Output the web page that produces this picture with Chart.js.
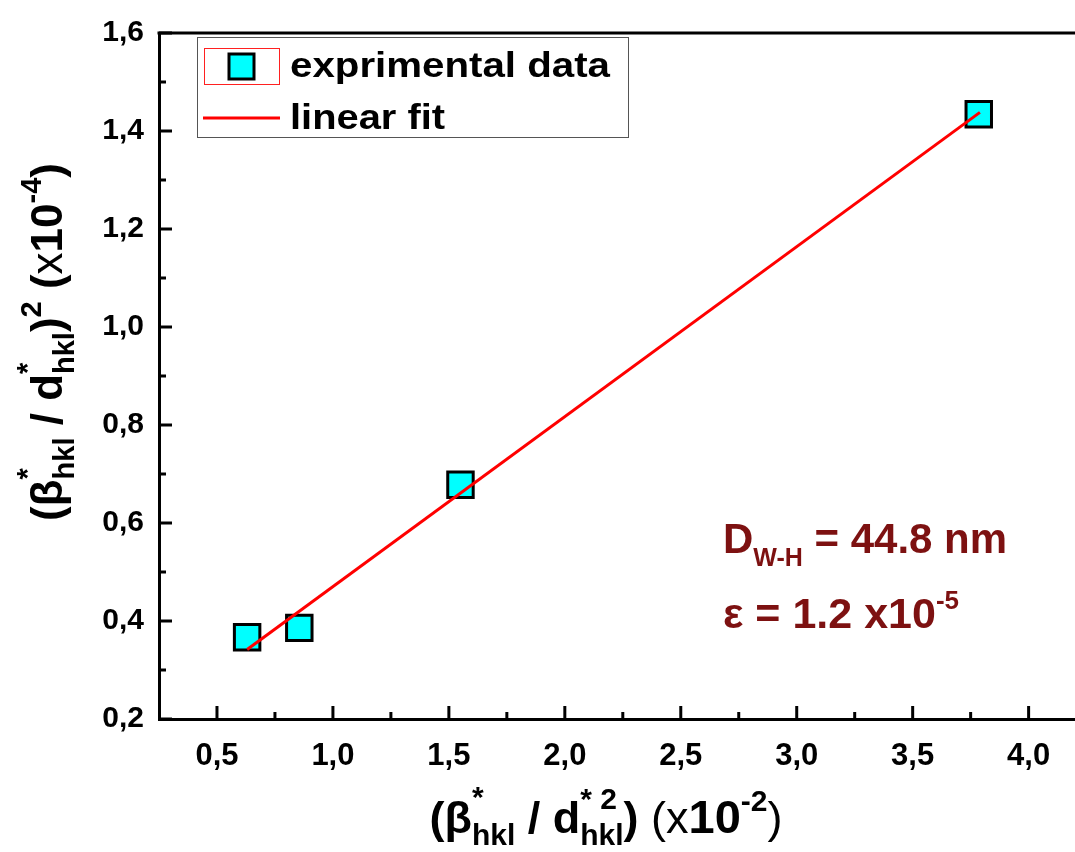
<!DOCTYPE html>
<html><head><meta charset="utf-8">
<script src="https://cdn.jsdelivr.net/npm/chart.js@4.4.0/dist/chart.umd.min.js"></script>
<style>html,body{margin:0;padding:0;background:#fff;overflow:hidden}canvas{display:block}</style>
</head><body>
<canvas id="c" width="1075" height="852"></canvas>
<script>
// ---- data ----
const expX = [0.63, 0.855, 1.55, 3.785];
const expY = [0.367, 0.386, 0.678, 1.434];
const fitX = [0.63, 3.79];
const fitY = [0.342, 1.438];
const seriesNames = ['exprimental data', 'linear fit'];
const xMajor = [0.5, 1.0, 1.5, 2.0, 2.5, 3.0, 3.5, 4.0];
const xMinor = [0.75, 1.25, 1.75, 2.25, 2.75, 3.25, 3.75];
const yMajor = [0.2, 0.4, 0.6, 0.8, 1.0, 1.2, 1.4, 1.6];
const yMinor = [0.3, 0.5, 0.7, 0.9, 1.1, 1.3, 1.5];
const annoLine1 = ['D', 'W-H', ' = 44.8 nm'];
const annoLine2 = ['\u03B5 = 1.2 x10', '-5'];

const FF = "'Liberation Sans', Arial, Helvetica, sans-serif";
const WINE = '#7d1111';
const fmt = v => v.toFixed(1).replace('.', ',');

function segWidth(ctx, s) {
  ctx.font = (s.bold === false ? '' : 'bold ') + s.size + 'px ' + FF;
  return ctx.measureText(s.t).width;
}
function richWidth(ctx, segs) {
  let w = 0, pend = 0;
  for (const s of segs) {
    const sw = segWidth(ctx, s);
    if (s.stack) { pend = sw; continue; }
    w += Math.max(sw, pend); pend = 0;
  }
  return w + pend;
}
function drawRich(ctx, segs, x, y, color) {
  ctx.fillStyle = color; ctx.textBaseline = 'alphabetic'; ctx.textAlign = 'left';
  let cx = x, pend = 0;
  for (const s of segs) {
    const sw = segWidth(ctx, s);
    ctx.fillText(s.t, cx, y + (s.dy || 0));
    if (s.stack) { pend = sw; continue; }
    cx += Math.max(sw, pend); pend = 0;
  }
}

const xTitle = [
  {t: '(\u03B2', size: 45}, {t: '*', size: 30, dy: -26, stack: true}, {t: 'hkl', size: 30, dy: 12},
  {t: ' / d', size: 45}, {t: '* 2', size: 30, dy: -24, stack: true}, {t: 'hkl', size: 30, dy: 12},
  {t: ')', size: 45}, {t: ' (x', size: 45, bold: false}, {t: '10', size: 47}, {t: '-2', size: 30, dy: -22},
  {t: ')', size: 45, bold: false}
];
const yTitle = [
  {t: '(\u03B2', size: 44}, {t: '*', size: 29, dy: -25, stack: true}, {t: 'hkl', size: 29, dy: 12},
  {t: ' / d', size: 44}, {t: '*', size: 29, dy: -25, stack: true}, {t: 'hkl', size: 29, dy: 12},
  {t: ')', size: 44}, {t: '2', size: 29, dy: -21}, {t: ' (', size: 44}, {t: 'x', size: 44, bold: false},
  {t: '10', size: 44}, {t: '-4', size: 29, dy: -21}, {t: ')', size: 44}
];

const decor = {
  id: 'decor',
  afterDraw(chart) {
    const ctx = chart.ctx, a = chart.chartArea, xs = chart.scales.x, ys = chart.scales.y;
    ctx.save();
    ctx.strokeStyle = '#000'; ctx.lineWidth = 3;
    ctx.beginPath(); ctx.moveTo(a.left - 1.5, a.top); ctx.lineTo(a.right, a.top); ctx.stroke();
    const tick = (vals, len, axis) => {
      for (const v of vals) {
        ctx.beginPath();
        if (axis === 'x') { const p = xs.getPixelForValue(v); ctx.moveTo(p, a.bottom); ctx.lineTo(p, a.bottom - len); }
        else { const p = ys.getPixelForValue(v); ctx.moveTo(a.left, p); ctx.lineTo(a.left + len, p); }
        ctx.stroke();
      }
    };
    tick(xMajor, 13, 'x'); tick(xMinor, 7, 'x'); tick(yMajor, 13, 'y'); tick(yMinor, 7, 'y');

    // legend
    ctx.lineWidth = 1; ctx.strokeStyle = '#555';
    ctx.strokeRect(197.5, 37.5, 431, 100);
    ctx.strokeStyle = '#ff2020';
    ctx.strokeRect(204.5, 48.5, 75, 36);
    const d0 = chart.data.datasets[1];
    ctx.fillStyle = d0.backgroundColor; ctx.fillRect(229, 54, 25, 25);
    ctx.strokeStyle = d0.borderColor; ctx.lineWidth = 3; ctx.strokeRect(229, 54, 25, 25);
    const d1 = chart.data.datasets[0];
    ctx.strokeStyle = d1.borderColor; ctx.lineWidth = 3;
    ctx.beginPath(); ctx.moveTo(203, 118); ctx.lineTo(280, 118); ctx.stroke();
    ctx.fillStyle = '#000'; ctx.textBaseline = 'alphabetic'; ctx.textAlign = 'left';
    ctx.font = 'bold 35px ' + FF;
    const lt = (txt, x, y, target) => {
      const w = ctx.measureText(txt).width;
      ctx.save(); ctx.translate(x, y); ctx.scale(target / w, 1); ctx.fillText(txt, 0, 0); ctx.restore();
    };
    lt(d0.label, 290, 77, 320);
    lt(d1.label, 290, 129, 155);

    // annotations
    drawRich(ctx, [{t: annoLine1[0], size: 42}, {t: annoLine1[1], size: 25, dy: 13}, {t: annoLine1[2], size: 42}], 723, 553, WINE);
    drawRich(ctx, [{t: annoLine2[0], size: 43}, {t: annoLine2[1], size: 26, dy: -19}], 723, 628, WINE);

    // x title
    const xw = richWidth(ctx, xTitle);
    drawRich(ctx, xTitle, 606 - xw / 2, 833, '#000');
    // y title
    const yw = richWidth(ctx, yTitle);
    ctx.save(); ctx.translate(62, 342); ctx.rotate(-Math.PI / 2);
    drawRich(ctx, yTitle, -yw / 2, 0, '#000');
    ctx.restore();
    ctx.restore();
  }
};

new Chart(document.getElementById('c'), {
  type: 'scatter',
  data: {
    datasets: [
      { label: seriesNames[1], data: fitX.map((x, i) => ({x, y: fitY[i]})), showLine: true,
        borderColor: '#ff0000', backgroundColor: '#ff0000', borderWidth: 3, pointRadius: 0, order: 0 },
      { label: seriesNames[0], data: expX.map((x, i) => ({x, y: expY[i]})), pointStyle: 'rect',
        pointRadius: 18, pointHoverRadius: 18, borderWidth: 3, borderColor: '#000', backgroundColor: '#00ffff', order: 1 }
    ]
  },
  options: {
    responsive: false, devicePixelRatio: 1, animation: false,
    layout: { autoPadding: false, padding: { top: 33, right: 0, left: 0, bottom: 0 } },
    plugins: { legend: { display: false }, tooltip: { enabled: false } },
    scales: {
      x: {
        type: 'linear', min: 0.25, max: 4.2,
        afterBuildTicks: s => { s.ticks = xMajor.map(v => ({value: v})); },
        afterFit: s => { s.height = 133; s.paddingLeft = 0; s.paddingRight = 0; },
        grid: { display: false, drawTicks: false },
        border: { display: true, color: '#000', width: 3 },
        ticks: { callback: v => fmt(v), color: '#000', padding: 19, maxRotation: 0, autoSkip: false,
                 font: { family: FF, size: 31, weight: 'bold' } }
      },
      y: {
        type: 'linear', min: 0.2, max: 1.6,
        afterBuildTicks: s => { s.ticks = yMajor.map(v => ({value: v})); },
        afterFit: s => { s.width = 159; s.paddingTop = 0; s.paddingBottom = 0; },
        grid: { display: false, drawTicks: false },
        border: { display: true, color: '#000', width: 3 },
        ticks: { callback: v => fmt(v), color: '#000', padding: 15, autoSkip: false,
                 font: { family: FF, size: 30, weight: 'bold' } }
      }
    }
  },
  plugins: [decor]
});
</script>
</body></html>
